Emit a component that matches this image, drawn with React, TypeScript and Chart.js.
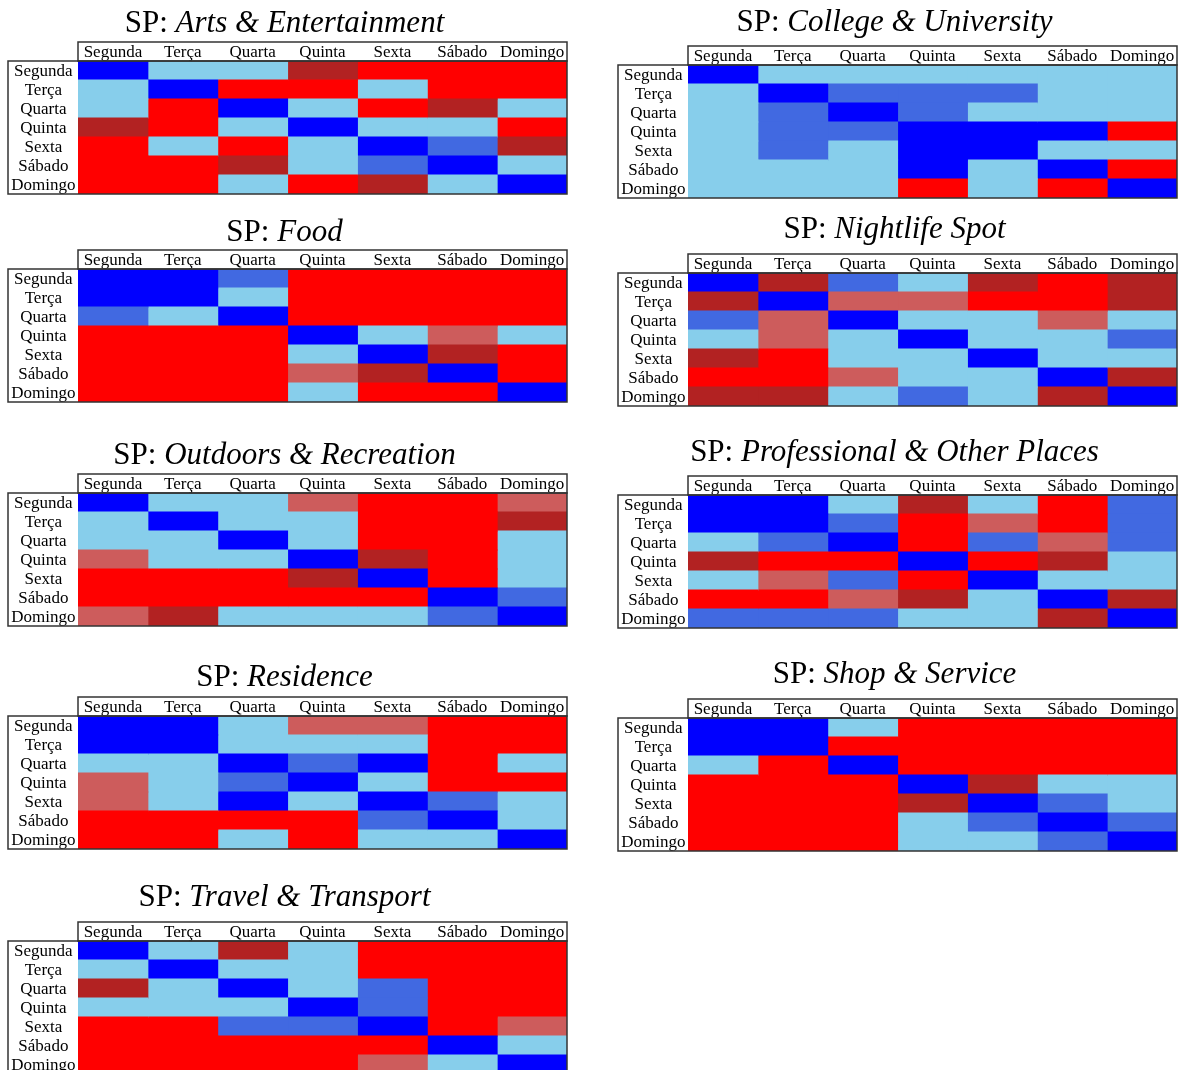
import React, { useEffect, useRef } from "react";
import { Chart, registerables } from "chart.js";

Chart.register(...registerables);

// Row and column categories (weekdays)
const days = ["Segunda", "Terça", "Quarta", "Quinta", "Sexta", "Sábado", "Domingo"];

// Colour levels: 0 blue, 1 royalblue, 2 skyblue, 3 indianred, 4 firebrick, 5 red
const levelColors = ["#0000ff", "#4169e1", "#87ceeb", "#cd5c5c", "#b22222", "#ff0000"];

const artsEntertainment = [
  [0, 2, 2, 4, 5, 5, 5],
  [2, 0, 5, 5, 2, 5, 5],
  [2, 5, 0, 2, 5, 4, 2],
  [4, 5, 2, 0, 2, 2, 5],
  [5, 2, 5, 2, 0, 1, 4],
  [5, 5, 4, 2, 1, 0, 2],
  [5, 5, 2, 5, 4, 2, 0],
];

const collegeUniversity = [
  [0, 2, 2, 2, 2, 2, 2],
  [2, 0, 1, 1, 1, 2, 2],
  [2, 1, 0, 1, 2, 2, 2],
  [2, 1, 1, 0, 0, 0, 5],
  [2, 1, 2, 0, 0, 2, 2],
  [2, 2, 2, 0, 2, 0, 5],
  [2, 2, 2, 5, 2, 5, 0],
];

const food = [
  [0, 0, 1, 5, 5, 5, 5],
  [0, 0, 2, 5, 5, 5, 5],
  [1, 2, 0, 5, 5, 5, 5],
  [5, 5, 5, 0, 2, 3, 2],
  [5, 5, 5, 2, 0, 4, 5],
  [5, 5, 5, 3, 4, 0, 5],
  [5, 5, 5, 2, 5, 5, 0],
];

const nightlifeSpot = [
  [0, 4, 1, 2, 4, 5, 4],
  [4, 0, 3, 3, 5, 5, 4],
  [1, 3, 0, 2, 2, 3, 2],
  [2, 3, 2, 0, 2, 2, 1],
  [4, 5, 2, 2, 0, 2, 2],
  [5, 5, 3, 2, 2, 0, 4],
  [4, 4, 2, 1, 2, 4, 0],
];

const outdoorsRecreation = [
  [0, 2, 2, 3, 5, 5, 3],
  [2, 0, 2, 2, 5, 5, 4],
  [2, 2, 0, 2, 5, 5, 2],
  [3, 2, 2, 0, 4, 5, 2],
  [5, 5, 5, 4, 0, 5, 2],
  [5, 5, 5, 5, 5, 0, 1],
  [3, 4, 2, 2, 2, 1, 0],
];

const professionalOther = [
  [0, 0, 2, 4, 2, 5, 1],
  [0, 0, 1, 5, 3, 5, 1],
  [2, 1, 0, 5, 1, 3, 1],
  [4, 5, 5, 0, 5, 4, 2],
  [2, 3, 1, 5, 0, 2, 2],
  [5, 5, 3, 4, 2, 0, 4],
  [1, 1, 1, 2, 2, 4, 0],
];

const residence = [
  [0, 0, 2, 3, 3, 5, 5],
  [0, 0, 2, 2, 2, 5, 5],
  [2, 2, 0, 1, 0, 5, 2],
  [3, 2, 1, 0, 2, 5, 5],
  [3, 2, 0, 2, 0, 1, 2],
  [5, 5, 5, 5, 1, 0, 2],
  [5, 5, 2, 5, 2, 2, 0],
];

const shopService = [
  [0, 0, 2, 5, 5, 5, 5],
  [0, 0, 5, 5, 5, 5, 5],
  [2, 5, 0, 5, 5, 5, 5],
  [5, 5, 5, 0, 4, 2, 2],
  [5, 5, 5, 4, 0, 1, 2],
  [5, 5, 5, 2, 1, 0, 1],
  [5, 5, 5, 2, 2, 1, 0],
];

const travelTransport = [
  [0, 2, 4, 2, 5, 5, 5],
  [2, 0, 2, 2, 5, 5, 5],
  [4, 2, 0, 2, 1, 5, 5],
  [2, 2, 2, 0, 1, 5, 5],
  [5, 5, 1, 1, 0, 5, 3],
  [5, 5, 5, 5, 5, 0, 2],
  [5, 5, 5, 5, 3, 2, 0],
];

const panelNames = [
  "Arts & Entertainment",
  "College & University",
  "Food",
  "Nightlife Spot",
  "Outdoors & Recreation",
  "Professional & Other Places",
  "Residence",
  "Shop & Service",
  "Travel & Transport",
];

const panelMatrices = [
  artsEntertainment,
  collegeUniversity,
  food,
  nightlifeSpot,
  outdoorsRecreation,
  professionalOther,
  residence,
  shopService,
  travelTransport,
];

// Layout (page pixels): left edge of label box, top of header box, title baseline
const panelLayout = [
  { left: 8, headerTop: 42, titleBaseline: 32 },
  { left: 618, headerTop: 46, titleBaseline: 31 },
  { left: 8, headerTop: 250, titleBaseline: 241 },
  { left: 618, headerTop: 254, titleBaseline: 238 },
  { left: 8, headerTop: 474, titleBaseline: 464 },
  { left: 618, headerTop: 476, titleBaseline: 461 },
  { left: 8, headerTop: 697, titleBaseline: 686 },
  { left: 618, headerTop: 699, titleBaseline: 683 },
  { left: 8, headerTop: 922, titleBaseline: 906 },
];

const FONT = '"Liberation Serif", "Times New Roman", serif';
const TITLE_SIZE = 31;
const TICK_SIZE = 17;
const TITLE_H = 40;
const LABEL_W = 70;
const HEADER_H = 19;
const GRID_W = 489;
const GRID_H = 133;
const CANVAS_W = 1 + LABEL_W + GRID_W + 1;
const CANVAS_H = TITLE_H + 1 + HEADER_H + GRID_H + 1;

function makeFramePlugin(name: string, baseline: number) {
  return {
    id: "frameAndTitle",
    afterDraw(chart: any) {
      const { ctx, chartArea } = chart;
      const { left, right, top, bottom } = chartArea;
      ctx.save();
      ctx.strokeStyle = "#333333";
      ctx.lineWidth = 1.5;
      ctx.strokeRect(left, top - HEADER_H, right - left, HEADER_H);
      ctx.strokeRect(left - LABEL_W, top, right - left + LABEL_W, bottom - top);
      // title: upright "SP: " followed by italic category name
      const prefix = "SP: ";
      ctx.fillStyle = "#000";
      ctx.textBaseline = "alphabetic";
      ctx.textAlign = "left";
      ctx.font = `${TITLE_SIZE}px ${FONT}`;
      const w1 = ctx.measureText(prefix).width;
      ctx.font = `italic ${TITLE_SIZE}px ${FONT}`;
      const w2 = ctx.measureText(name).width;
      const cx = (left - LABEL_W + right) / 2 - 3;
      const x0 = cx - (w1 + w2) / 2;
      ctx.font = `${TITLE_SIZE}px ${FONT}`;
      ctx.fillText(prefix, x0, baseline);
      ctx.font = `italic ${TITLE_SIZE}px ${FONT}`;
      ctx.fillText(name, x0 + w1, baseline);
      ctx.restore();
    },
  };
}

function Heatmap(props: { name: string; matrix: number[][]; left: number; headerTop: number; titleBaseline: number }) {
  const { name, matrix, left, headerTop, titleBaseline } = props;
  const ref = useRef<HTMLCanvasElement>(null);
  const canvasTop = headerTop - 1 - TITLE_H;

  useEffect(() => {
    if (!ref.current) return;
    const datasets = days.map((d, j) => ({
      label: d,
      data: days.map(() => [j, j + 1]),
      backgroundColor: matrix.map((row) => levelColors[row[j]]),
      borderWidth: 0,
      inflateAmount: 0.5,
      grouped: false,
      barPercentage: 1,
      categoryPercentage: 1,
      xAxisID: "x",
      yAxisID: "y",
    }));
    const tickFont = { family: FONT, size: TICK_SIZE };
    const chart = new Chart(ref.current, {
      type: "bar",
      data: { labels: days, datasets: datasets as any },
      options: {
        indexAxis: "y",
        responsive: false,
        animation: false,
        devicePixelRatio: 1,
        layout: { padding: { left: 1, right: 1, top: TITLE_H + 1, bottom: 1 } },
        plugins: {
          legend: { display: false },
          tooltip: { enabled: false },
          title: { display: false },
        },
        scales: {
          x: { type: "linear", min: 0, max: 7, display: false },
          xTop: {
            type: "category",
            labels: days,
            position: "top",
            offset: true,
            grid: { display: false, drawTicks: false },
            border: { display: false },
            ticks: { color: "#000", font: tickFont, padding: -2, maxRotation: 0, autoSkip: false },
            afterFit: (s: any) => {
              s.height = HEADER_H;
              s.paddingLeft = 0;
              s.paddingRight = 0;
            },
          },
          y: {
            type: "category",
            position: "left",
            offset: true,
            grid: { display: false, drawTicks: false },
            border: { display: false },
            ticks: {
              color: "#000",
              font: tickFont,
              padding: 2.5,
              crossAlign: "center",
              autoSkip: false,
              labelOffset: 1.5,
            },
            afterFit: (s: any) => {
              s.width = LABEL_W;
              s.paddingTop = 0;
              s.paddingBottom = 0;
            },
          },
        } as any,
      },
      plugins: [makeFramePlugin(name, titleBaseline - canvasTop)],
    });
    return () => chart.destroy();
  }, [name, matrix, titleBaseline, canvasTop]);

  return (
    <canvas
      ref={ref}
      width={CANVAS_W}
      height={CANVAS_H}
      style={{ position: "absolute", left: left - 1, top: canvasTop, width: CANVAS_W, height: CANVAS_H }}
    />
  );
}

export default function App() {
  return (
    <div style={{ position: "absolute", left: 0, top: 0, width: 1179, height: 1080, background: "#fff" }}>
      {panelNames.map((n, k) => (
        <Heatmap key={n} name={n} matrix={panelMatrices[k]} {...panelLayout[k]} />
      ))}
    </div>
  );
}
